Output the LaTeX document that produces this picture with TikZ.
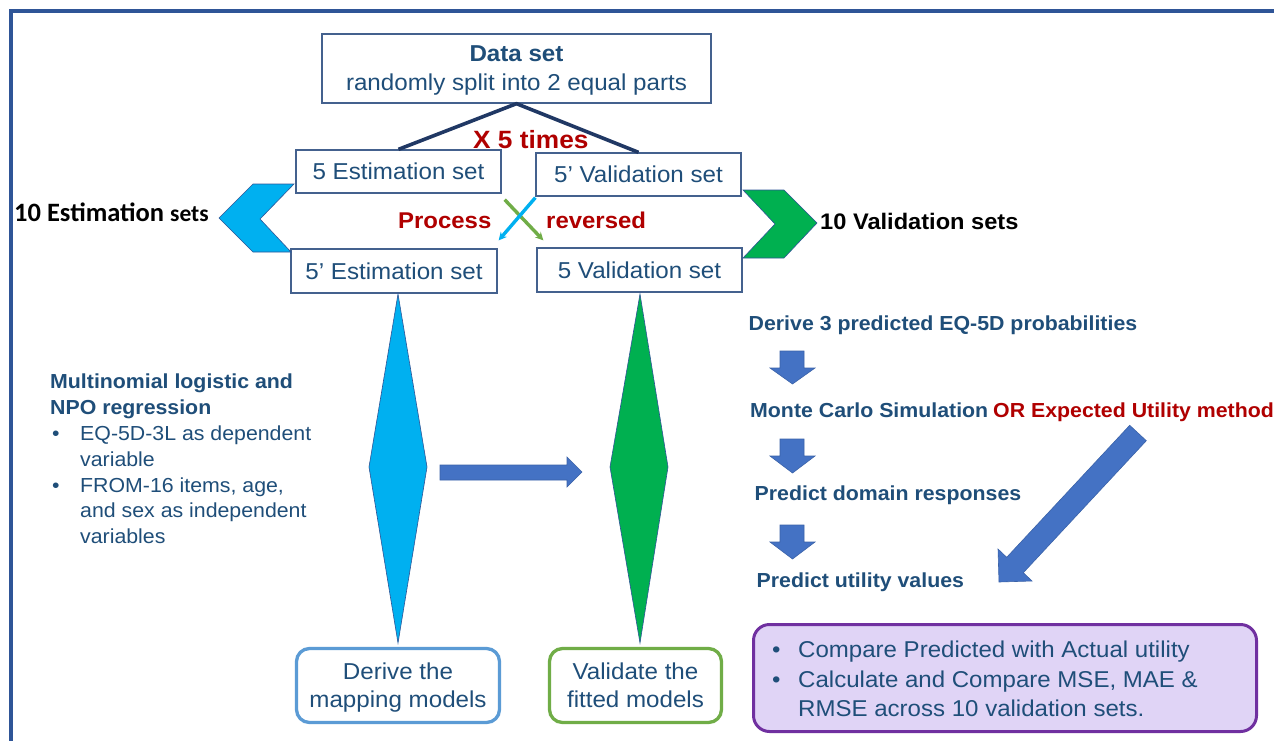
\documentclass[tikz,border=0pt]{standalone}
\usepackage{fontspec}
\setmainfont{Liberation Sans}[FakeStretch=1.05]
\newfontfamily\calfont{Carlito}
\usetikzlibrary{arrows.meta,calc}

\definecolor{frameblue}{HTML}{2F5597}
\definecolor{txtblue}{HTML}{1F4E79}
\definecolor{boxline}{HTML}{44618E}
\definecolor{linenavy}{HTML}{203864}
\definecolor{darkred}{HTML}{B00000}
\definecolor{cyanfill}{HTML}{00B0F0}
\definecolor{greenfill}{HTML}{00B050}
\definecolor{arrowblue}{HTML}{4472C4}
\definecolor{arrowedge}{HTML}{3A62A8}
\definecolor{lightblue}{HTML}{5B9BD5}
\definecolor{leafgreen}{HTML}{70AD47}
\definecolor{purpleline}{HTML}{7030A0}
\definecolor{lavender}{HTML}{E0D4F6}

\tikzset{
  plainbox/.style={draw=boxline, line width=1.3, fill=white, text=txtblue, inner sep=0},
  setbox/.style={plainbox, font=\fontsize{23}{27}\selectfont, text height=16.5, text depth=0},
  modelbox/.style={line width=3.3, rounded corners=13, fill=white, text=txtblue,
    align=center, font=\fontsize{23}{28}\selectfont, text depth=0, inner sep=0},
  headb/.style={font=\bfseries\fontsize{20.3}{26}\selectfont, text=txtblue, anchor=base west, inner sep=0},
  body/.style={font=\fontsize{20.3}{26}\selectfont, text=txtblue, anchor=base west, inner sep=0},
  pbody/.style={font=\fontsize{22.9}{29}\selectfont, text=txtblue, anchor=base west, inner sep=0},
  redb/.style={font=\bfseries\fontsize{22.8}{26}\selectfont, text=darkred, anchor=base west, inner sep=0},
  blockarrow/.style={fill=arrowblue, draw=arrowedge, line width=0.6},
  chevron/.style={draw=frameblue, line width=0.6},
  spike/.style={draw=frameblue, line width=0.6},
  crossarrow/.style={line width=3.4, -{Stealth[length=8, width=8]}},
}

\begin{document}
\begin{tikzpicture}[x=1pt, y=-1pt]
\useasboundingbox (0,0) rectangle (1274,740);
\clip (0,0) rectangle (1274,740);
\fill[white] (0,0) rectangle (1274,740);

% outer frame
\draw[frameblue, line width=4] (11,760) -- (11,11) -- (1290,11);

% data set and the four half sets
\node[plainbox, minimum width=389, minimum height=69, align=center,
      font=\fontsize{23}{29}\selectfont, text depth=0] (ds) at (516.5,68.5)
      {\textbf{Data set}\\randomly split into 2 equal parts};
\node[setbox, minimum width=205, minimum height=43] (e5) at (398.5,171.5) {5 Estimation set};
\node[setbox, minimum width=205, minimum height=43] (v5p) at (638.5,174.5) {5’ Validation set};
\node[setbox, minimum width=206, minimum height=44] (e5p) at (394,271) {5’ Estimation set};
\node[setbox, minimum width=205, minimum height=44] (v5) at (639.5,270) {5 Validation set};

% split lines
\draw[linenavy, line width=3.6, line join=round] (e5.north) -- (ds.south) -- (v5p.north);
\node[redb, font=\bfseries\fontsize{25}{28}\selectfont] (times) at (473,148) {X 5 times};

% crossed arrows: process reversed
\draw[crossarrow, leafgreen] ($(e5.south east)+(3,6)$) -- ($(v5.north west)+(7,-7)$);
\draw[crossarrow, cyanfill] ($(v5p.south west)+(0,1)$) -- ($(e5p.north east)+(1,-8)$);
\node[redb] (proc) at (398,228) {Process};
\node[redb] (rev) at (546,228) {reversed};

% chevrons
\draw[chevron, fill=cyanfill] (219,218) -- (253,184) -- (294,184) -- (260,219)
  -- (291,252) -- (253,252) -- cycle;
\draw[chevron, fill=greenfill] (743,190) -- (784,190) -- (817,223) -- (784,258)
  -- (743,258) -- (775,224) -- cycle;
\node[anchor=base west, inner sep=0, font=\calfont\bfseries] (est10) at (14,221)
  {{\fontsize{26.5}{30}\selectfont 10 Estimation\ }{\fontsize{23.5}{30}\selectfont sets}};
\node[anchor=base west, inner sep=0, font=\bfseries\fontsize{22.5}{26}\selectfont] (val10) at (820,229)
  {10 Validation sets};

% spikes below the sets
\draw[spike, fill=cyanfill] (398,294) -- (427,467) -- (398,643) -- (369,467) -- cycle;
\draw[spike, fill=greenfill] (640,294) -- (668,467) -- (640,643) -- (610,467) -- cycle;

% horizontal block arrow
\draw[blockarrow] (440,465) -- (567,465) -- (567,457) -- (582,472) -- (567,487)
  -- (567,480) -- (440,480) -- cycle;

% model boxes
\node[modelbox, draw=lightblue, minimum width=203, minimum height=74] (derive) at (398,685.5)
  {Derive the\\mapping models};
\node[modelbox, draw=leafgreen, minimum width=172, minimum height=74] (validate) at (635.5,685.5)
  {Validate the\\fitted models};

% left description
\node[headb] (m1) at (50,388) {Multinomial logistic and};
\node[headb] (m2) at (50,414) {NPO regression};
\node[body] (b1) at (52,440) {•};
\node[body] (l1) at (80,440) {EQ-5D-3L as dependent};
\node[body] (l2) at (80,466) {variable};
\node[body] (b2) at (52,492) {•};
\node[body] (l3) at (80,492) {FROM-16 items, age,};
\node[body] (l4) at (80,517) {and sex as independent};
\node[body] (l5) at (80,543) {variables};

% right column steps
\node[headb] (s1) at (748.5,330) {Derive 3 predicted EQ-5D probabilities};
\node[headb] (s2) at (750,417) {Monte Carlo Simulation};
\node[headb, text=darkred] (s2b) at (993,417) {OR Expected Utility method};
\node[headb] (s3) at (754.5,500) {Predict domain responses};
\node[headb] (s4) at (756.5,587) {Predict utility values};

% small down arrows between steps
\foreach \t/\b/\tip in {351/368/384, 439/456/473, 525/542/559}{
  \draw[blockarrow] (780,\t) -- (804,\t) -- (804,\b) -- (815,\b) -- (792.5,\tip)
    -- (770,\b) -- (780,\b) -- cycle;
}

% diagonal arrow from the expected utility method
\draw[blockarrow] (1129.7,425.3) -- (1006.7,557.3) -- (998,549) -- (999,582)
  -- (1032,581) -- (1023.3,572.7) -- (1146.3,440.7) -- cycle;

% comparison box
\draw[purpleline, fill=lavender, line width=3, rounded corners=16] (753.5,624.5) rectangle (1256.5,731.5);
\node[pbody] (c0) at (772,657) {•};
\node[pbody] (c1) at (798,657) {Compare Predicted with Actual utility};
\node[pbody] (c0b) at (772,687) {•};
\node[pbody] (c2) at (798,687) {Calculate and Compare MSE, MAE \&};
\node[pbody] (c3) at (798,716) {RMSE across 10 validation sets.};
\end{tikzpicture}
\end{document}
